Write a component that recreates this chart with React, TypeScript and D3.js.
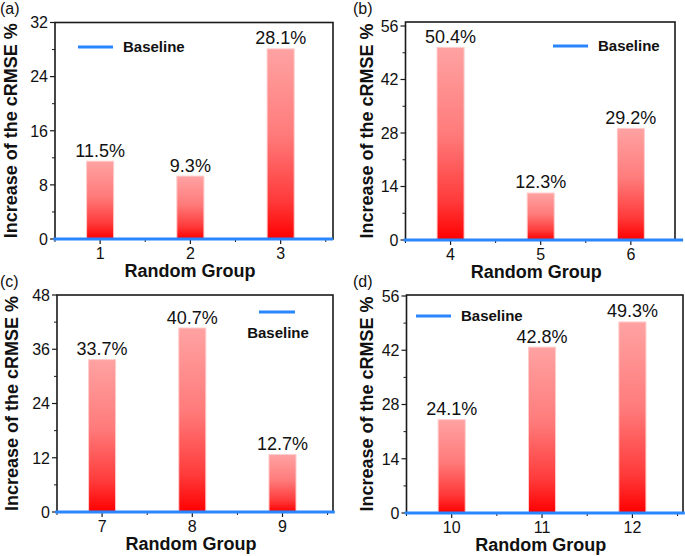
import React from "react";
import * as d3 from "d3";

const panelLabels = ["(a)", "(b)", "(c)", "(d)"];
const groupsA = [1, 2, 3];
const valuesA = [11.5, 9.3, 28.1];
const groupsB = [4, 5, 6];
const valuesB = [50.4, 12.3, 29.2];
const groupsC = [7, 8, 9];
const valuesC = [33.7, 40.7, 12.7];
const groupsD = [10, 11, 12];
const valuesD = [24.1, 42.8, 49.3];
const yMaxes = [32, 56, 48, 56];
const ySteps = [8, 14, 12, 14];
const yTitle = "Increase of the cRMSE %";
const xTitle = "Random Group";
const legendLabel = "Baseline";

const groupsList = [groupsA, groupsB, groupsC, groupsD];
const valuesList = [valuesA, valuesB, valuesC, valuesD];

type Layout = {
  left: number; right: number; top: number; bottom: number; yTopPx: number;
  xDomain: [number, number]; yTitleX: number; letterX: number; letterY: number;
  legend: { vertical: boolean; x: number; y: number };
};

const layouts: Layout[] = [
  { left: 55, right: 333, top: 22.5, bottom: 239, yTopPx: 22.5, xDomain: [0.5, 3.58], yTitleX: 17, letterX: 0, letterY: 14, legend: { vertical: false, x: 78, y: 47 } },
  { left: 405.5, right: 675, top: 22, bottom: 240, yTopPx: 26, xDomain: [3.5, 6.49], yTitleX: 373, letterX: 353, letterY: 14, legend: { vertical: false, x: 553, y: 46 } },
  { left: 57, right: 333, top: 295, bottom: 512, yTopPx: 295, xDomain: [6.5, 9.56], yTitleX: 18, letterX: 0, letterY: 287, legend: { vertical: true, x: 259, y: 312 } },
  { left: 406.5, right: 683, top: 295, bottom: 513, yTopPx: 296, xDomain: [9.5, 12.56], yTitleX: 373, letterX: 353, letterY: 287, legend: { vertical: false, x: 416, y: 316 } },
];

const FONT = "Arial, 'Liberation Sans', Helvetica, sans-serif";
const BLUE = "#2a86ff";
const FRAME = "#1a1a1a";

function Panel({ idx }: { idx: number }) {
  const L = layouts[idx];
  const groups = groupsList[idx];
  const values = valuesList[idx];
  const yMax = yMaxes[idx];
  const step = ySteps[idx];
  const x = d3.scaleLinear().domain(L.xDomain).range([L.left, L.right]);
  const y = d3.scaleLinear().domain([0, yMax]).range([L.bottom, L.yTopPx]);
  const majorY = d3.range(0, yMax + 0.001, step);
  const minorY = d3.range(step / 2, yMax, step);
  const minorX = d3.range(groups[0] - 0.5, groups[groups.length - 1] + 0.51, 1).filter(
    (v) => v >= L.xDomain[0] - 1e-6 && v <= L.xDomain[1] + 1e-6
  );
  const barW = x(0.3) - x(0);
  const gradId = `grad${idx}`;
  const midY = (L.top + L.bottom) / 2;
  const midX = (L.left + L.right) / 2 - 4;
  const blueStart = x(groups[0] - 0.52);
  const blueEnd = x(groups[groups.length - 1] + 0.58);
  return (
    <g>
      <defs>
        <linearGradient id={gradId} x1="0" y1="0" x2="0" y2="1">
          <stop offset="0" stopColor="#ffa2a2" />
          <stop offset="0.45" stopColor="#ff7b7b" />
          <stop offset="0.8" stopColor="#ff3a3a" />
          <stop offset="1" stopColor="#ff0000" />
        </linearGradient>
      </defs>
      {groups.map((g, i) => (
        <rect
          key={g}
          x={x(g) - barW / 2}
          y={y(values[i])}
          width={barW}
          height={y(0) - y(values[i])}
          fill={`url(#${gradId})`}
          stroke="#ffcccc"
          strokeWidth={1}
        />
      ))}
      {groups.map((g, i) => (
        <text
          key={`l${g}`}
          x={x(g)}
          y={y(values[i]) - 4.5}
          textAnchor="middle"
          fontSize={18}
          fontFamily={FONT}
          fill="#111"
        >
          {`${values[i].toFixed(1)}%`}
        </text>
      ))}
      <rect x={L.left} y={L.top} width={L.right - L.left} height={L.bottom - L.top} fill="none" stroke={FRAME} strokeWidth={1.6} />
      {majorY.map((v) => (
        <g key={`y${v}`}>
          <line x1={L.left - 5} x2={L.left} y1={y(v)} y2={y(v)} stroke={FRAME} strokeWidth={1.2} />
          <text x={L.left - 7} y={y(v)} dy="0.36em" textAnchor="end" fontSize={16} fontFamily={FONT} fill="#111">
            {v}
          </text>
        </g>
      ))}
      {minorY.map((v) => (
        <line key={`ym${v}`} x1={L.left - 3} x2={L.left} y1={y(v)} y2={y(v)} stroke={FRAME} strokeWidth={1} />
      ))}
      {groups.map((g) => (
        <g key={`x${g}`}>
          <line x1={x(g)} x2={x(g)} y1={L.bottom} y2={L.bottom + 5} stroke={FRAME} strokeWidth={1.2} />
          <text x={x(g)} y={L.bottom + 20} textAnchor="middle" fontSize={16} fontFamily={FONT} fill="#111">
            {g}
          </text>
        </g>
      ))}
      {minorX.map((v) => (
        <line key={`xm${v}`} x1={x(v)} x2={x(v)} y1={L.bottom} y2={L.bottom + 3} stroke={FRAME} strokeWidth={1} />
      ))}
      <line x1={blueStart} x2={blueEnd} y1={y(0)} y2={y(0)} stroke={BLUE} strokeWidth={3.2} />
      <text
        transform={`translate(${L.yTitleX},${midY}) rotate(-90)`}
        textAnchor="middle"
        fontSize={18}
        fontWeight="bold"
        fontFamily={FONT}
        fill="#111"
      >
        {yTitle}
      </text>
      <text x={midX} y={L.bottom + 38} textAnchor="middle" fontSize={18} fontWeight="bold" fontFamily={FONT} fill="#111">
        {xTitle}
      </text>
      <text x={L.letterX} y={L.letterY} fontSize={16} fontFamily={FONT} fill="#111">
        {panelLabels[idx]}
      </text>
      {L.legend.vertical ? (
        <g>
          <line x1={L.legend.x} x2={L.legend.x + 36} y1={L.legend.y} y2={L.legend.y} stroke={BLUE} strokeWidth={3} />
          <text x={L.legend.x + 19} y={L.legend.y + 26} textAnchor="middle" fontSize={15} fontWeight="bold" fontFamily={FONT} fill="#111">
            {legendLabel}
          </text>
        </g>
      ) : (
        <g>
          <line x1={L.legend.x} x2={L.legend.x + 35} y1={L.legend.y} y2={L.legend.y} stroke={BLUE} strokeWidth={3} />
          <text x={L.legend.x + 45} y={L.legend.y} dy="0.36em" fontSize={15} fontWeight="bold" fontFamily={FONT} fill="#111">
            {legendLabel}
          </text>
        </g>
      )}
    </g>
  );
}

export default function App() {
  return (
    <svg
      width={685}
      height={556}
      style={{ position: "absolute", left: 0, top: 0, background: "#fff" }}
    >
      <rect x={0} y={0} width={685} height={556} fill="#fff" />
      {[0, 1, 2, 3].map((i) => (
        <Panel key={i} idx={i} />
      ))}
    </svg>
  );
}
